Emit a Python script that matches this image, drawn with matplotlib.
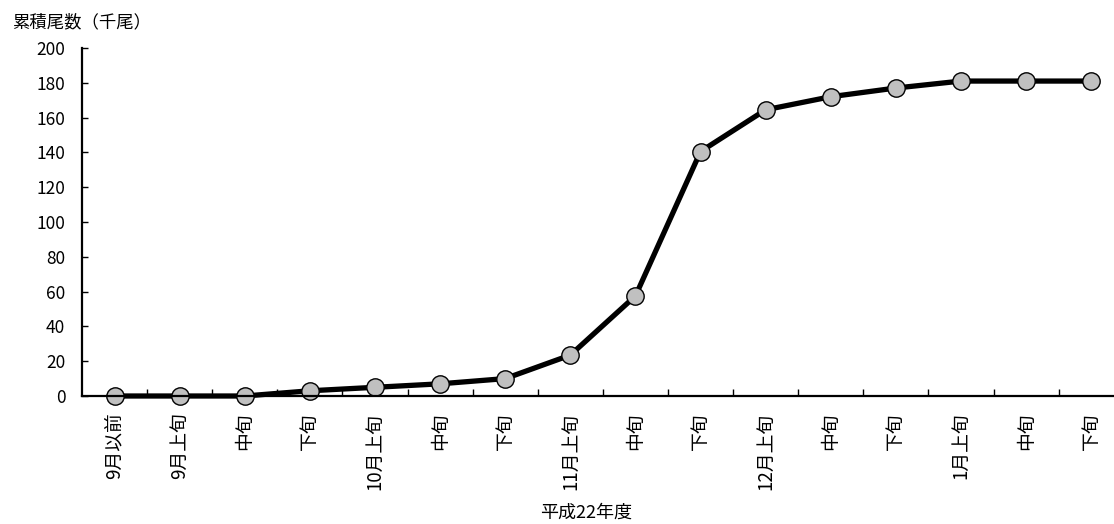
import matplotlib
matplotlib.use("Agg")
import matplotlib.pyplot as plt
import numpy as np

plt.rcParams["font.family"] = ["Noto Sans CJK JP", "DejaVu Sans"]

# 旬ごとの累積尾数（千尾）
periods = ["9月以前", "9月上旬", "中旬", "下旬",
           "10月上旬", "中旬", "下旬",
           "11月上旬", "中旬", "下旬",
           "12月上旬", "中旬", "下旬",
           "1月上旬", "中旬", "下旬"]
cumulative = [0, 0, 0, 3, 5, 7, 10, 23.5, 57.5, 140.5, 164.5, 172, 177, 181, 181, 181]
y_ticks = [0, 20, 40, 60, 80, 100, 120, 140, 160, 180, 200]

fig = plt.figure(figsize=(11.14, 5.24), dpi=100)
ax = fig.add_axes([82 / 1114, 128 / 524, 1 - 82 / 1114, 348 / 524])

x = np.arange(len(periods))
ax.plot(x, cumulative, color="black", linewidth=3.8, zorder=2,
        marker="o", markersize=12.5, markerfacecolor="#c0c0c0",
        markeredgecolor="black", markeredgewidth=1.0, clip_on=False)

ax.set_xlim(-0.5, 15.35)
ax.set_ylim(0, 200)

# 軸は左と下のみ
for side in ("top", "right"):
    ax.spines[side].set_visible(False)
ax.spines["left"].set_linewidth(1.6)
ax.spines["bottom"].set_linewidth(1.6)

ax.set_yticks(y_ticks)
ax.tick_params(axis="y", direction="in", length=4, width=1.0,
               labelsize=12.5, pad=12)

# 区切りの目盛りは補助目盛り、ラベルは各旬の中央
ax.set_xticks(x)
ax.set_xticklabels(periods, rotation=90, fontsize=13.5)
ax.tick_params(axis="x", which="major", length=0, pad=12)
ax.set_xticks(np.arange(0.5, len(periods) - 1, 1.0), minor=True)
ax.tick_params(axis="x", which="minor", direction="in", length=5, width=1.0)

fig.text(12 / 1114, 1 - 22 / 524, "累積尾数（千尾）", fontsize=12.5,
         ha="left", va="center")
fig.text(586 / 1114, 1 - 513 / 524, "平成22年度", fontsize=13,
         ha="center", va="center")

fig.savefig("out.png", dpi=100)
